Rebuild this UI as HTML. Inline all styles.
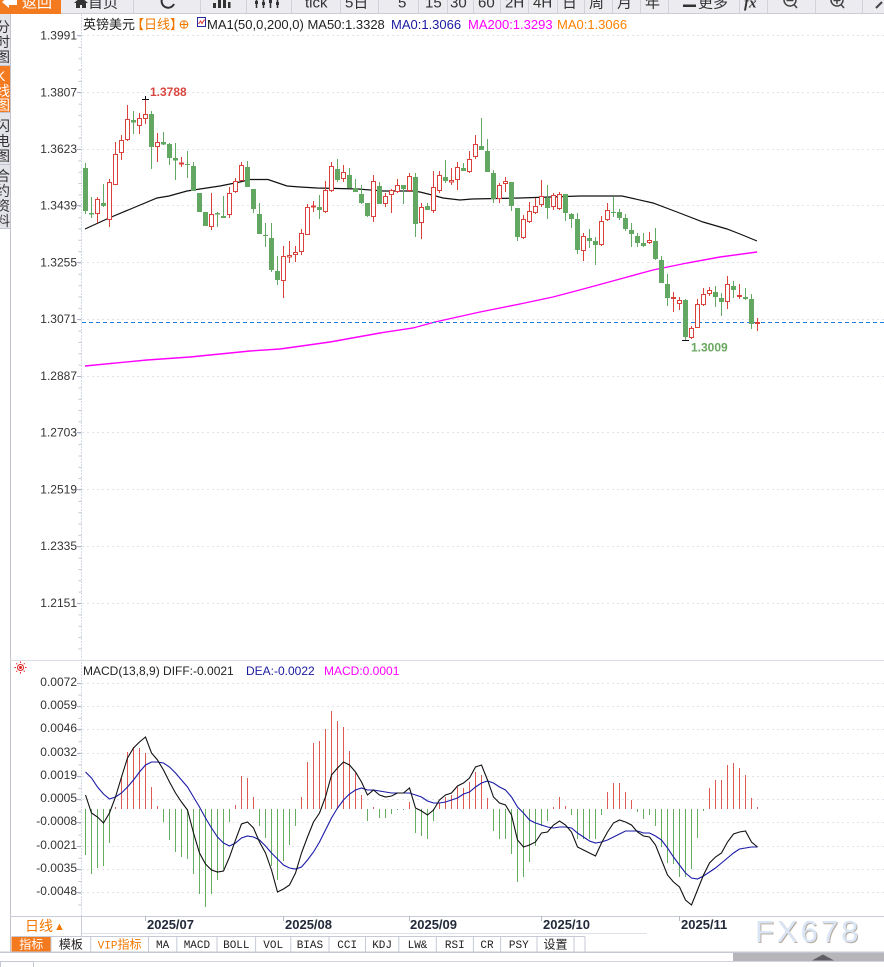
<!DOCTYPE html>
<html><head><meta charset="utf-8">
<style>
html,body{margin:0;padding:0;background:#fff;width:884px;height:967px;overflow:hidden}
svg{display:block}
</style></head><body>
<svg width="884" height="967" viewBox="0 0 884 967" xmlns="http://www.w3.org/2000/svg" font-family="'Liberation Sans','Noto Sans CJK SC',sans-serif">
<defs>
<clipPath id="lc"><rect x="0" y="14" width="10" height="214"/></clipPath>
<clipPath id="tb"><rect x="0" y="0" width="884" height="13"/></clipPath>
</defs>
<rect x="0" y="0" width="884" height="967" fill="#fff"/>

<!-- toolbar -->
<rect x="0" y="0" width="884" height="14" fill="#ebebf0"/>
<line x1="0" y1="13.5" x2="884" y2="13.5" stroke="#cdcdd6"/>
<rect x="0" y="0" width="61" height="14" fill="#f47a20"/>
<path d="M133.5 0V13M200.5 0V13M246.5 0V13M291.5 0V13M340.5 0V13M378.5 0V13M418.5 0V13M447.5 0V13M473.5 0V13M500.5 0V13M528.5 0V13M557.5 0V13M584.5 0V13M612.5 0V13M640.5 0V13M668.5 0V13M739.5 0V13M767.5 0V13M815.5 0V13M862.5 0V13" stroke="#d2d2da"/>
<g clip-path="url(#tb)">
<polygon points="2,2 9,-4 9,-1 17,-1 17,5 9,5 9,8" fill="#fff"/>
<text x="22" y="7.5" font-size="15" fill="#fff">返回</text>
<polygon points="74,3 81,-3 88,3" fill="#333"/>
<rect x="76" y="3" width="10" height="5" fill="#333"/>
<rect x="80" y="5" width="2" height="3" fill="#ebebf0"/>
<text x="88" y="7.5" font-size="15" fill="#333">首页</text>
<path d="M174 4A6.5 6.5 0 1 1 172 -4" stroke="#333" stroke-width="2" fill="none"/>
<rect x="213" y="3" width="3" height="5" fill="#333"/><rect x="218" y="0" width="3" height="8" fill="#333"/><rect x="223" y="-1" width="3" height="9" fill="#333"/><rect x="228" y="2" width="2.5" height="6" fill="#333"/>
<path d="M256.5 -3V8M263.5 -3V8M270.5 -3V8M277.5 -3V8" stroke="#333" stroke-width="1.5"/>
<rect x="255" y="1" width="3" height="3" fill="#333"/><rect x="262" y="2" width="3" height="3" fill="#333"/><rect x="269" y="0" width="3" height="3" fill="#333"/><rect x="276" y="2" width="3" height="3" fill="#333"/>
<text x="305" y="7.5" font-size="15" fill="#333">tick</text>
<text x="345" y="7.5" font-size="15" fill="#333">5日</text>
<text x="398" y="7.5" font-size="15" fill="#333">5</text>
<text x="425" y="7.5" font-size="15" fill="#333">15</text>
<text x="450" y="7.5" font-size="15" fill="#333">30</text>
<text x="478" y="7.5" font-size="15" fill="#333">60</text>
<text x="505" y="7.5" font-size="15" fill="#333">2H</text>
<text x="533" y="7.5" font-size="15" fill="#333">4H</text>
<text x="562" y="7.5" font-size="15" fill="#333">日</text>
<text x="589" y="7.5" font-size="15" fill="#333">周</text>
<text x="617" y="7.5" font-size="15" fill="#333">月</text>
<text x="645" y="7.5" font-size="15" fill="#333">年</text>
<rect x="683" y="4.5" width="13" height="2.5" fill="#333"/>
<text x="698" y="7.5" font-size="15" fill="#333">更多</text>
<text x="744" y="7.5" font-size="15" font-style="italic" font-weight="bold" fill="#333" font-family="'Liberation Serif',serif">fx</text>
<circle cx="790" cy="0" r="6" stroke="#444" stroke-width="1.5" fill="none"/><path d="M786.5 0.5H793.5M794 4.5L797 8" stroke="#444" stroke-width="1.5"/>
<circle cx="837" cy="0" r="6" stroke="#444" stroke-width="1.5" fill="none"/><path d="M833.5 0.5H840.5M837 -3V4M841 4.5L844 8" stroke="#444" stroke-width="1.5"/>
<path d="M876 8L882 2" stroke="#444" stroke-width="2"/>
</g>

<!-- left column tabs -->
<rect x="0" y="14" width="10" height="214" fill="#e3e3ea"/>
<rect x="0" y="66" width="10" height="46" fill="#f47a20"/>
<path d="M0 65.5H10M0 112.5H10M0 164.5H10M0 228.5H10" stroke="#c4c4cf"/>
<g clip-path="url(#lc)" font-size="14">
<text x="-4" y="32" fill="#333">分</text><text x="-4" y="47" fill="#333">时</text><text x="-4" y="62" fill="#333">图</text>
<text x="-4" y="81" fill="#fff">K</text><text x="-4" y="96" fill="#fff">线</text><text x="-4" y="110" fill="#fff">图</text>
<text x="-4" y="131" fill="#333">闪</text><text x="-4" y="146" fill="#333">电</text><text x="-4" y="161" fill="#333">图</text>
<text x="-4" y="181" fill="#333">合</text><text x="-4" y="196" fill="#333">约</text><text x="-4" y="211" fill="#333">资</text><text x="-4" y="226" fill="#333">料</text>
</g>
<line x1="10.5" y1="14" x2="10.5" y2="952" stroke="#c4c4ce"/>

<!-- axis line & ticks -->
<line x1="81.5" y1="14" x2="81.5" y2="916" stroke="#d4dae4" stroke-dasharray="2 1"/>
<line x1="80" y1="35.5" x2="80" y2="655" stroke="#c2cad6" stroke-width="3" stroke-dasharray="1 10.35"/>
<line x1="80" y1="683" x2="80" y2="910" stroke="#c2cad6" stroke-width="3" stroke-dasharray="1 10.65"/>
<path d="M77 35.5H81M77 92.5H81M77 149.5H81M77 205.5H81M77 262.5H81M77 319.5H81M77 376.5H81M77 432.5H81M77 489.5H81M77 546.5H81M77 603.5H81" stroke="#aab4c4"/>

<!-- price grid -->
<path d="M82 35.5H884M82 92.5H884M82 149.5H884M82 205.5H884M82 262.5H884M82 319.5H884M82 376.5H884M82 432.5H884M82 489.5H884M82 546.5H884M82 603.5H884" stroke="#e2e2ea" stroke-dasharray="2 3"/>

<!-- price labels -->
<g font-size="12" fill="#333" text-anchor="end">
<text x="77" y="39.5">1.3991</text>
<text x="77" y="96.5">1.3807</text>
<text x="77" y="153">1.3623</text>
<text x="77" y="209.5">1.3439</text>
<text x="77" y="266.5">1.3255</text>
<text x="77" y="323">1.3071</text>
<text x="77" y="380">1.2887</text>
<text x="77" y="436.5">1.2703</text>
<text x="77" y="493.5">1.2519</text>
<text x="77" y="550">1.2335</text>
<text x="77" y="607">1.2151</text>
</g>

<!-- legend -->
<text x="83" y="29" font-size="13" fill="#222">英镑美元</text>
<text x="131" y="29" font-size="13" fill="#f07800">【日线】</text>
<circle cx="184" cy="24.5" r="3.8" stroke="#f07800" stroke-width="1" fill="none"/>
<path d="M180 24.5H188M184 20.5V28.5" stroke="#f07800"/>
<rect x="197.5" y="17.5" width="8" height="9" fill="#fff" stroke="#2a2aa0"/>
<polyline points="198.5,24 200.5,21 202,23.5 204.5,19.5" stroke="#d33" fill="none"/>
<text x="207" y="29" font-size="13" fill="#222">MA1(50,0,200,0) MA50:1.3328</text>
<text x="391" y="29" font-size="13" fill="#1a1aa0">MA0:1.3066</text>
<text x="468" y="29" font-size="13" fill="#ff00ff">MA200:1.3293</text>
<text x="557" y="29" font-size="13" fill="#ff8000">MA0:1.3066</text>

<!-- MA200 -->
<polyline points="85,366 147,360 190,357 250,351 280,349 330,342 380,333 413,328 435,322 480,312 520,304 553,297 587,288 620,279 653,270 687,263 720,257 757,252" fill="none" stroke="#ff00ff" stroke-width="1.4"/>
<!-- MA50 -->
<polyline points="85,229 109,218 133,208 157,198 169,196 187,191 200,189 220,186 240,182 250,179.5 268,179.5 287,186 300,187 317,188 358,189 383,191 413,191 420,192 432,195 443,198 460,200 472,199 520,198 580,196 622,196 653,203 677,212 703,222 727,229 740,234 757,241" fill="none" stroke="#111" stroke-width="1.2"/>

<!-- current price dashed -->
<line x1="82" y1="322.5" x2="884" y2="322.5" stroke="#1e7fe0" stroke-dasharray="4 3"/>

<!-- candles wicks -->
<path d="M85.5 163V214M91.5 197V218M103.5 184V207M133.5 111V134M151.5 111V169M163.5 132V145M169.5 143V165M175.5 143V180M187.5 151V178M193.5 162V191M199.5 193V212M205.5 212V226M217.5 212V227M223.5 196V218M247.5 161V187M253.5 189V213M259.5 203V234M265.5 223V247M271.5 223V272M277.5 256V285M319.5 195V219M337.5 159V182M349.5 168V188M355.5 179V192M361.5 185V204M367.5 203V217M379.5 182V204M403.5 185V204M415.5 173V237M427.5 203V210M445.5 160V183M463.5 163V171M481.5 118V150M487.5 139V172M493.5 170V203M511.5 182V211M517.5 208V241M547.5 185V219M565.5 194V221M571.5 213V228M577.5 213V254M589.5 229V248M595.5 237V265M613.5 197V217M619.5 209V220M625.5 214V231M631.5 223V247M637.5 233V247M643.5 233V247M655.5 228V260M661.5 256V283M667.5 274V306M685.5 299V340M715.5 286V307M721.5 293V316M733.5 281V298M745.5 288V300M751.5 294V329" stroke="#62a862"/>
<path d="M97.5 197V223M109.5 179V227M115.5 142V185M121.5 135V160M127.5 105V141M139.5 113V134M145.5 99V124M157.5 133V162M181.5 157V167M211.5 193V230M229.5 187V218M235.5 178V193M241.5 162V181M283.5 246V298M289.5 241V263M295.5 246V262M301.5 229V255M307.5 204V235M313.5 201V212M325.5 181V213M331.5 162V192M343.5 165V182M373.5 175V222M385.5 193V207M391.5 189V213M397.5 179V193M409.5 173V192M421.5 203V239M433.5 171V213M439.5 171V193M451.5 168V185M457.5 162V190M469.5 151V173M475.5 135V159M499.5 183V203M505.5 177V192M523.5 215V239M529.5 202V223M535.5 198V214M541.5 180V207M553.5 193V210M559.5 192V210M583.5 233V261M601.5 216V246M607.5 203V221M649.5 232V244M673.5 292V312M679.5 297V310M691.5 326V339M697.5 299V328M703.5 288V306M709.5 287V296M727.5 276V309M739.5 284V299M757.5 318V331" stroke="#d9413b"/>

<!-- green bodies -->
<g fill="#62a862">
<rect x="83" y="168" width="5" height="43"/><rect x="89" y="213" width="5" height="1.5"/><rect x="101" y="203" width="5" height="3"/><rect x="131" y="120" width="5" height="2.5"/><rect x="149" y="114" width="5" height="33"/><rect x="161" y="142" width="5" height="2.5"/><rect x="167" y="144" width="5" height="14"/><rect x="173" y="158" width="5" height="2.5"/><rect x="185" y="164" width="5" height="1"/><rect x="191" y="166" width="5" height="25"/><rect x="197" y="193" width="5" height="19"/><rect x="203" y="212" width="5" height="14"/><rect x="215" y="213" width="5" height="1.5"/><rect x="221" y="216" width="5" height="2"/><rect x="245" y="167" width="5" height="20"/><rect x="251" y="189" width="5" height="20"/><rect x="257" y="214" width="5" height="20"/><rect x="263" y="235" width="5" height="1"/><rect x="269" y="238" width="5" height="32"/><rect x="275" y="271" width="5" height="9"/><rect x="317" y="207" width="5" height="3"/><rect x="335" y="169" width="5" height="11"/><rect x="347" y="175" width="5" height="13"/><rect x="353" y="188" width="5" height="4"/><rect x="359" y="194" width="5" height="9"/><rect x="365" y="203" width="5" height="13"/><rect x="377" y="186" width="5" height="18"/><rect x="401" y="185" width="5" height="4"/><rect x="413" y="177" width="5" height="47"/><rect x="425" y="206" width="5" height="4"/><rect x="443" y="177" width="5" height="4"/><rect x="461" y="168" width="5" height="3"/><rect x="479" y="146" width="5" height="4"/><rect x="485" y="151" width="5" height="21"/><rect x="491" y="173" width="5" height="26"/><rect x="509" y="182" width="5" height="24"/><rect x="515" y="208" width="5" height="29"/><rect x="545" y="198" width="5" height="10"/><rect x="563" y="194" width="5" height="19"/><rect x="569" y="214" width="5" height="5"/><rect x="575" y="219" width="5" height="31"/><rect x="587" y="238" width="5" height="3"/><rect x="593" y="241" width="5" height="4"/><rect x="611" y="212" width="5" height="1"/><rect x="617" y="212" width="5" height="6"/><rect x="623" y="218" width="5" height="11"/><rect x="629" y="230" width="5" height="4"/><rect x="635" y="236" width="5" height="7"/><rect x="641" y="243" width="5" height="3"/><rect x="653" y="241" width="5" height="18"/><rect x="659" y="260" width="5" height="23"/><rect x="665" y="284" width="5" height="14"/><rect x="683" y="300" width="5" height="37"/><rect x="713" y="292" width="5" height="5"/><rect x="719" y="298" width="5" height="4"/><rect x="731" y="286" width="5" height="4"/><rect x="743" y="297" width="5" height="2"/><rect x="749" y="299" width="5" height="25"/>
</g>
<!-- red bodies -->
<g fill="#fff" stroke="#d9413b" stroke-width="1">
<rect x="95.5" y="199.5" width="4" height="14"/><rect x="107.5" y="182.5" width="4" height="37"/><rect x="113.5" y="154.5" width="4" height="30"/><rect x="119.5" y="140.5" width="4" height="12"/><rect x="125.5" y="119.5" width="4" height="20"/><rect x="137.5" y="118.5" width="4" height="7"/><rect x="143.5" y="114.5" width="4" height="4"/><rect x="155.5" y="142.5" width="4" height="4"/><rect x="179.5" y="163" width="4" height="1"/><rect x="209.5" y="214.5" width="4" height="12"/><rect x="227.5" y="193.5" width="4" height="21"/><rect x="233.5" y="181.5" width="4" height="10"/><rect x="239.5" y="165.5" width="4" height="15"/><rect x="281.5" y="256.5" width="4" height="24"/><rect x="287.5" y="255.5" width="4" height="1.5"/><rect x="293.5" y="252.5" width="4" height="2"/><rect x="299.5" y="233.5" width="4" height="18"/><rect x="305.5" y="207.5" width="4" height="27"/><rect x="311.5" y="206" width="4" height="1"/><rect x="323.5" y="190.5" width="4" height="21"/><rect x="329.5" y="166.5" width="4" height="24"/><rect x="341.5" y="172.5" width="4" height="6"/><rect x="371.5" y="181.5" width="4" height="35"/><rect x="383.5" y="196.5" width="4" height="7"/><rect x="389.5" y="190.5" width="4" height="4"/><rect x="395.5" y="185.5" width="4" height="6"/><rect x="407.5" y="176.5" width="4" height="14"/><rect x="419.5" y="207.5" width="4" height="15"/><rect x="431.5" y="187.5" width="4" height="23"/><rect x="437.5" y="175.5" width="4" height="15"/><rect x="449.5" y="180.5" width="4" height="1.5"/><rect x="455.5" y="167.5" width="4" height="12"/><rect x="467.5" y="159.5" width="4" height="12"/><rect x="473.5" y="144.5" width="4" height="12"/><rect x="497.5" y="185.5" width="4" height="13"/><rect x="503.5" y="181.5" width="4" height="2"/><rect x="521.5" y="219.5" width="4" height="18"/><rect x="527.5" y="211.5" width="4" height="10"/><rect x="533.5" y="206.5" width="4" height="6"/><rect x="539.5" y="196.5" width="4" height="8"/><rect x="551.5" y="195.5" width="4" height="11"/><rect x="557.5" y="194.5" width="4" height="14"/><rect x="581.5" y="236.5" width="4" height="14"/><rect x="599.5" y="221.5" width="4" height="23"/><rect x="605.5" y="210.5" width="4" height="9"/><rect x="647.5" y="240.5" width="4" height="2"/><rect x="671.5" y="297.5" width="4" height="1"/><rect x="677.5" y="300.5" width="4" height="3"/><rect x="689.5" y="328.5" width="4" height="9"/><rect x="695.5" y="304.5" width="4" height="23"/><rect x="701.5" y="294.5" width="4" height="10"/><rect x="707.5" y="290.5" width="4" height="3"/><rect x="725.5" y="284.5" width="4" height="17"/><rect x="737.5" y="295.5" width="4" height="1"/><rect x="755.5" y="322.5" width="4" height="1"/>
</g>

<!-- high / low markers -->
<path d="M142 99.5H149M145.5 96V99M682 340.5H689" stroke="#111"/>
<text x="150" y="96" font-size="12" font-weight="bold" fill="#d9463f">1.3788</text>
<text x="691" y="351.5" font-size="12" font-weight="bold" fill="#6aa860">1.3009</text>

<!-- MACD pane -->
<line x1="10" y1="660.5" x2="884" y2="660.5" stroke="#dcdce4"/>
<path d="M82 683.5H884M82 706.5H884M82 729.5H884M82 753.5H884M82 776.5H884M82 799.5H884M82 822.5H884M82 846.5H884M82 869.5H884M82 892.5H884" stroke="#e2e2ea" stroke-dasharray="2 3"/>
<path d="M77 683.5H81M77 706.5H81M77 729.5H81M77 753.5H81M77 776.5H81M77 799.5H81M77 822.5H81M77 846.5H81M77 869.5H81M77 892.5H81" stroke="#aab4c4"/>
<g font-size="12" fill="#333" text-anchor="end">
<text x="77" y="686">0.0072</text>
<text x="77" y="709">0.0059</text>
<text x="77" y="732">0.0046</text>
<text x="77" y="756">0.0032</text>
<text x="77" y="779">0.0019</text>
<text x="77" y="802">0.0005</text>
<text x="77" y="825">-0.0008</text>
<text x="77" y="849">-0.0021</text>
<text x="77" y="872">-0.0035</text>
<text x="77" y="895">-0.0048</text>
</g>
<circle cx="20.5" cy="667.5" r="3" stroke="#e02020" fill="none"/>
<circle cx="20.5" cy="667.5" r="1.5" fill="#e02020"/>
<path d="M20.5 661.5V663M20.5 672V673.5M14.5 667.5H16M25 667.5H26.5M16.3 663.3L17.3 664.3M23.7 670.7L24.7 671.7M24.7 663.3L23.7 664.3M17.3 670.7L16.3 671.7" stroke="#e02020"/>
<text x="83" y="675" font-size="12" fill="#222">MACD(13,8,9) DIFF:-0.0021</text>
<text x="246" y="675" font-size="12" fill="#1a1aa0">DEA:-0.0022</text>
<text x="324" y="675" font-size="12" fill="#ff00ff">MACD:0.0001</text>

<path d="M115.5 809V807M121.5 809V778M127.5 809V752M133.5 809V747M139.5 809V748M145.5 809V753M151.5 809V787M157.5 809V806M235.5 809V805M241.5 809V776M247.5 809V778M253.5 809V797M301.5 809V797M307.5 809V762M313.5 809V743M319.5 809V741M325.5 809V729M331.5 809V711M337.5 809V721M343.5 809V727M349.5 809V751M355.5 809V773M361.5 809V795M373.5 809V807M409.5 809V802M439.5 809V803M445.5 809V797M451.5 809V795M457.5 809V787M463.5 809V788M469.5 809V782M475.5 809V772M481.5 809V775M487.5 809V798M553.5 809V807M559.5 809V797M565.5 809V806M607.5 809V792M613.5 809V783M619.5 809V783M625.5 809V792M631.5 809V800M709.5 809V788M715.5 809V780M721.5 809V780M727.5 809V765M733.5 809V763M739.5 809V768M745.5 809V775M751.5 809V798M757.5 809V807" stroke="#dd5a55"/>
<path d="M85.5 809V855M91.5 809V874M97.5 809V868M103.5 809V866M109.5 809V843M163.5 809V822M169.5 809V840M175.5 809V852M181.5 809V857M187.5 809V859M193.5 809V874M199.5 809V894M205.5 809V907M211.5 809V894M217.5 809V880M223.5 809V869M229.5 809V822M259.5 809V826M265.5 809V838M271.5 809V866M277.5 809V880M283.5 809V861M289.5 809V845M295.5 809V826M367.5 809V821M379.5 809V818M385.5 809V818M391.5 809V814M397.5 809V810M403.5 809V810M415.5 809V833M421.5 809V836M427.5 809V839M433.5 809V821M493.5 809V831M499.5 809V839M505.5 809V839M511.5 809V854M517.5 809V882M523.5 809V877M529.5 809V862M535.5 809V846M541.5 809V826M547.5 809V821M571.5 809V815M577.5 809V839M583.5 809V839M589.5 809V839M595.5 809V839M601.5 809V815M637.5 809V812M643.5 809V819M649.5 809V815M655.5 809V826M661.5 809V847M667.5 809V863M673.5 809V864M679.5 809V877M685.5 809V877M691.5 809V869M697.5 809V838M703.5 809V811" stroke="#66ad62"/>

<polyline fill="none" stroke="#1a1aa8" stroke-width="1.1" points="85.5,772 91.5,778 97.5,787 103.5,794 109.5,799 115.5,797 121.5,793 127.5,787 133.5,780 139.5,772 145.5,765 151.5,762 157.5,762 163.5,763 169.5,767 175.5,773 181.5,780 187.5,787 193.5,797 199.5,807 205.5,818 211.5,828 217.5,837 223.5,843 229.5,846 235.5,843 241.5,838 247.5,836 253.5,837 259.5,840 265.5,846 271.5,853 277.5,859 283.5,865 289.5,868 295.5,869 301.5,867 307.5,860 313.5,852 319.5,842 325.5,830 331.5,818 337.5,808 343.5,800 349.5,794 355.5,790 361.5,788 367.5,790 373.5,790 379.5,791 385.5,792 391.5,793 397.5,793 403.5,793 409.5,793 415.5,795 421.5,797 427.5,801 433.5,803 439.5,803 445.5,802 451.5,800 457.5,798 463.5,794 469.5,792 475.5,787 481.5,783 487.5,781 493.5,783 499.5,787 505.5,790 511.5,797 517.5,807 523.5,813 529.5,820 535.5,823 541.5,825 547.5,827 553.5,828 559.5,827 565.5,827 571.5,828 577.5,833 583.5,837 589.5,841 595.5,843 601.5,842 607.5,840 613.5,837 619.5,834 625.5,831 631.5,831 637.5,831 643.5,833 649.5,833 655.5,836 661.5,840 667.5,848 673.5,857 679.5,865 685.5,873 691.5,878 697.5,879 703.5,876 709.5,872 715.5,868 721.5,863 727.5,858 733.5,853 739.5,849 745.5,848 751.5,847 757.5,847"/>
<polyline fill="none" stroke="#111" stroke-width="1.1" points="85.5,795 91.5,813 97.5,817 103.5,823 109.5,813 115.5,797 121.5,777 127.5,758 133.5,748 139.5,742 145.5,737 151.5,753 157.5,760 163.5,770 169.5,782 175.5,793 181.5,802 187.5,810 193.5,833 199.5,853 205.5,864 211.5,870 217.5,872 223.5,871 229.5,857 235.5,840 241.5,824 247.5,822 253.5,828 259.5,842 265.5,853 271.5,870 277.5,892 283.5,889 289.5,885 295.5,873 301.5,853 307.5,837 313.5,822 319.5,813 325.5,797 331.5,775 337.5,768 343.5,762 349.5,765 355.5,772 361.5,782 367.5,795 373.5,790 379.5,795 385.5,797 391.5,796 397.5,793 403.5,793 409.5,788 415.5,808 421.5,811 427.5,815 433.5,810 439.5,800 445.5,795 451.5,793 457.5,786 463.5,783 469.5,778 475.5,767 481.5,765 487.5,780 493.5,797 499.5,803 505.5,805 511.5,815 517.5,840 523.5,847 529.5,845 535.5,842 541.5,833 547.5,832 553.5,825 559.5,821 565.5,825 571.5,832 577.5,847 583.5,850 589.5,853 595.5,856 601.5,843 607.5,832 613.5,823 619.5,820 625.5,822 631.5,825 637.5,832 643.5,836 649.5,837 655.5,845 661.5,860 667.5,875 673.5,882 679.5,887 685.5,900 691.5,905 697.5,890 703.5,875 709.5,863 715.5,857 721.5,853 727.5,842 733.5,834 739.5,832 745.5,831 751.5,842 757.5,847"/>

<!-- date axis -->
<line x1="10" y1="916.5" x2="884" y2="916.5" stroke="#c8ccd8"/>
<line x1="81" y1="933.5" x2="647" y2="933.5" stroke="#dde0e8"/>
<line x1="81.5" y1="916" x2="81.5" y2="936" stroke="#c8ccd8"/>
<text x="25" y="931" font-size="14" fill="#f07800">日线</text>
<text x="54" y="930" font-size="11" fill="#f07800">▲</text>
<path d="M145.5 916V921M283.5 916V921M409.5 916V921M541.5 916V921M679.5 916V921" stroke="#b8bcc8"/>
<g font-size="13" font-weight="bold" fill="#222a3a">
<text x="147" y="929">2025/07</text>
<text x="285" y="929">2025/08</text>
<text x="410" y="929">2025/09</text>
<text x="543" y="929">2025/10</text>
<text x="681" y="929">2025/11</text>
</g>

<!-- watermark -->
<text x="756" y="943" font-size="31" letter-spacing="3" fill="#b9ada2">FX678</text>
<text x="755" y="942" font-size="31" letter-spacing="3" fill="#d9e5f5">FX678</text>

<!-- tab row -->
<rect x="11.5" y="936.5" width="39.5" height="15" fill="#f47a20"/>
<path d="M11.5 936.5H585M51 936.5V951.5M90.7 936.5V951.5M148.5 936.5V951.5M176.8 936.5V951.5M217 936.5V951.5M255.6 936.5V951.5M290.8 936.5V951.5M329 936.5V951.5M365.5 936.5V951.5M398.8 936.5V951.5M436.3 936.5V951.5M473.4 936.5V951.5M500.6 936.5V951.5M537 936.5V951.5M574 936.5V951.5M585 936.5V951.5" stroke="#c5cad6" fill="none"/>
<g font-size="12" text-anchor="middle" fill="#222">
<text x="31.2" y="948.5" fill="#fff">指标</text>
<text x="70.9" y="948.5">模板</text>
<text x="119.6" y="948.5" fill="#f07800"><tspan font-family="'Liberation Mono',monospace" font-size="11">VIP</tspan>指标</text>
<text x="555.5" y="948.5">设置</text>
</g>
<g font-size="11" text-anchor="middle" fill="#222" font-family="'Liberation Mono',monospace">
<text x="162.6" y="948">MA</text>
<text x="196.9" y="948">MACD</text>
<text x="236.3" y="948">BOLL</text>
<text x="273.2" y="948">VOL</text>
<text x="309.9" y="948">BIAS</text>
<text x="347.2" y="948">CCI</text>
<text x="382.1" y="948">KDJ</text>
<text x="417.5" y="948">LW&amp;</text>
<text x="454.8" y="948">RSI</text>
<text x="487" y="948">CR</text>
<text x="518.8" y="948">PSY</text>
</g>

<!-- bottom bars -->
<line x1="0" y1="952.2" x2="884" y2="952.2" stroke="#c4c8d2" stroke-width="1.5"/>
<rect x="733" y="953" width="151" height="8" fill="#b5b5ba"/>
<polygon points="812,960.5 823,954.5 834,960.5" fill="#5e5e64"/>
<line x1="0" y1="961.5" x2="884" y2="961.5" stroke="#d0d4dc"/>
<rect x="0.5" y="961.5" width="33" height="7" fill="#fff" stroke="#c4c8d2"/>
</svg>
</body></html>
